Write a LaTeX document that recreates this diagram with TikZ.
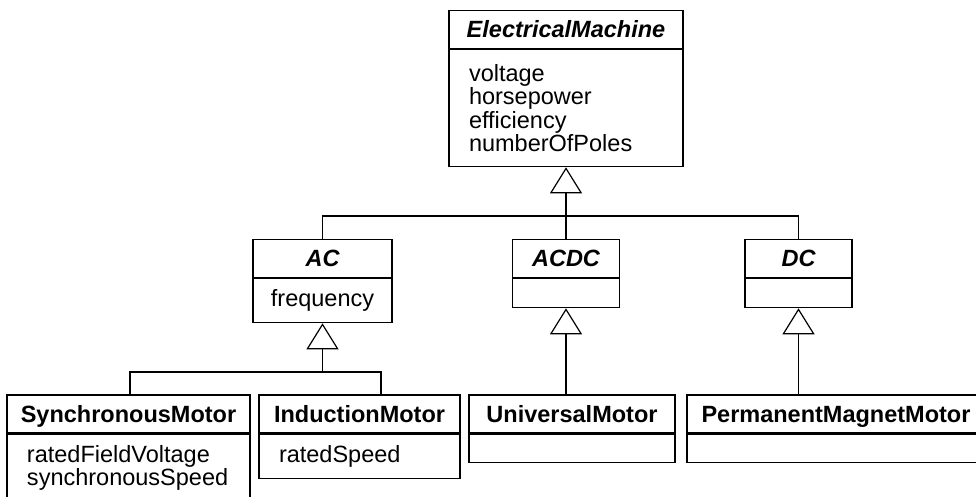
\documentclass[tikz,border=0pt]{standalone}
\usepackage{fontspec}
\setmainfont{Liberation Sans}
\usetikzlibrary{arrows.meta,positioning}

\begin{document}
\begin{tikzpicture}[
  x=1pt, y=-1pt,
  every node/.style={font=\fontsize{23.5}{23.3}\selectfont},
  cls/.style={rectangle, draw, line width=1.2pt, inner sep=0pt,
    minimum height=38pt, text height=16.8pt, text depth=0pt,
    font=\fontsize{23.5}{23.3}\selectfont\bfseries},
  abs/.style={cls, font=\fontsize{23.5}{23.3}\selectfont\bfseries\itshape},
  attr/.style={rectangle, draw, line width=1.2pt, inner xsep=20pt,
    inner ysep=0pt, align=left},
  line/.style={line width=1.2pt},
  gen/.style={line, -{Triangle[open, length=26pt, width=32pt]}}
]
\useasboundingbox (0,0) rectangle (976,497);
% abstract classes
\node[abs, minimum width=234pt] (em) at (566,29.5) {ElectricalMachine};
\node[attr, below=0pt of em, minimum width=234pt, text width=194pt,
  minimum height=117pt] (emA) {voltage\\horsepower\\efficiency\\numberOfPoles};
\node[abs, minimum width=139pt] (ac) at (322.5,258.5) {AC};
\node[attr, below=0pt of ac, inner xsep=10pt, minimum width=139pt,
  minimum height=44pt] (acA) {frequency};
\node[abs, minimum width=107pt] (acdc) at (566,258.5) {ACDC};
\node[attr, below=0pt of acdc, minimum width=107pt, minimum height=29pt] (acdcA) {};
\node[abs, minimum width=107pt] (dc) at (798.5,258.5) {DC};
\node[attr, below=0pt of dc, minimum width=107pt, minimum height=29pt] (dcA) {};
% concrete motors
\node[cls, minimum width=243pt] (sm) at (128.5,414) {SynchronousMotor};
\node[attr, below=0pt of sm, minimum width=243pt, text width=203pt,
  minimum height=67pt] (smA) {ratedFieldVoltage\\synchronousSpeed};
\node[cls, minimum width=201pt] (im) at (359.5,414) {InductionMotor};
\node[attr, below=0pt of im, minimum width=201pt, text width=161pt,
  minimum height=44pt] (imA) {ratedSpeed};
\node[cls, minimum width=206pt] (um) at (572,414) {UniversalMotor};
\node[attr, below=0pt of um, minimum width=206pt, minimum height=28pt] (umA) {};
\node[cls, minimum width=298pt] (pm) at (836,414) {PermanentMagnetMotor};
\node[attr, below=0pt of pm, minimum width=298pt, minimum height=28pt] (pmA) {};
% generalizations
\coordinate (bus1) at (566,216);
\coordinate (bus2) at (322.5,372);
\draw[gen] (acdc.north) -- (emA.south);
\draw[line] (ac.north) |- (bus1) -| (dc.north);
\draw[gen] (bus2) -- (acA.south);
\draw[line] ([xshift=1.5pt]sm.north) |- (bus2) -| ([xshift=21.5pt]im.north);
\draw[gen] (acdcA.south |- um.north) -- (acdcA.south);
\draw[gen] (dcA.south |- pm.north) -- (dcA.south);
\end{tikzpicture}
\end{document}
